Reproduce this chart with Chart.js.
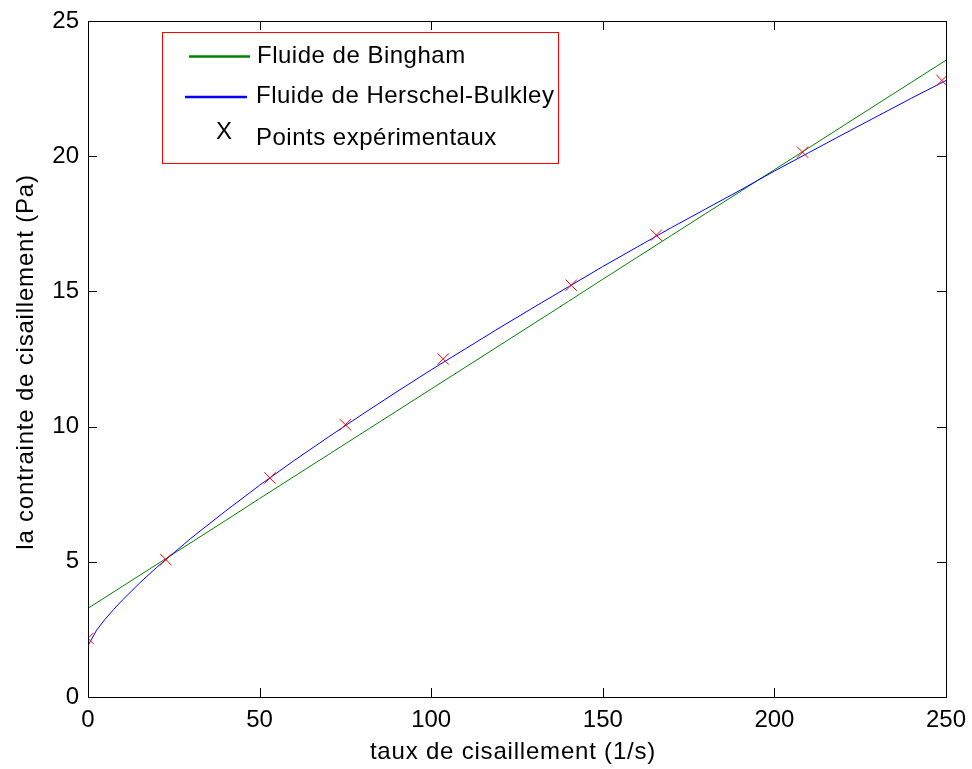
<!DOCTYPE html>
<html>
<head>
<meta charset="utf-8">
<script src="https://cdn.jsdelivr.net/npm/chart.js@4.4.1/dist/chart.umd.min.js"></script>
<style>
  html, body { margin: 0; padding: 0; background: #fff; }
  canvas { display: block; }
</style>
</head>
<body>
<canvas id="chart" width="972" height="769"></canvas>
<script>
// === Data ===
const shearRate = [0, 10, 20, 30, 40, 50, 60, 70, 80, 90, 100, 110, 120, 130, 140, 150, 160, 170, 180, 190, 200, 210, 220, 230, 240, 250];
const binghamStress = [3.28, 4.09, 4.90, 5.71, 6.52, 7.34, 8.15, 8.96, 9.77, 10.58, 11.39, 12.20, 13.01, 13.82, 14.63, 15.45, 16.26, 17.07, 17.88, 18.69, 19.50, 20.31, 21.12, 21.93, 22.74, 23.55];
const hbRate = [0, 2.5, 5, 7.5, 10, 15, 20, 30, 40, 50, 60, 70, 80, 90, 100, 110, 120, 130, 140, 150, 160, 170, 180, 190, 200, 210, 220, 230, 240, 250];
const hbStress = [1.90, 2.47, 2.88, 3.24, 3.58, 4.21, 4.79, 5.87, 6.87, 7.83, 8.74, 9.61, 10.46, 11.29, 12.10, 12.88, 13.66, 14.42, 15.17, 15.92, 16.64, 17.36, 18.05, 18.74, 19.45, 20.13, 20.81, 21.48, 22.15, 22.80];
const expRate = [0, 22.7, 53.0, 75.0, 103.5, 140.8, 165.6, 208.2, 248.8];
const expStress = [2.17, 5.08, 8.10, 10.07, 12.50, 15.23, 17.08, 20.15, 22.80];
const xTicks = [0, 50, 100, 150, 200, 250];
const yTicks = [0, 5, 10, 15, 20, 25];

const FONT = "Liberation Sans, Arial, Helvetica, sans-serif";
const pts = (xs, ys) => xs.map((x, i) => ({ x: x, y: ys[i] }));

// zone de tracé fixe (comme la figure MATLAB)
const AREA = { left: 88, right: 946, top: 21, bottom: 697 };

// === Cadre, graduations intérieures, titres des axes, légende ===
const framePlugin = {
  id: "frame",
  afterDraw(chart) {
    const ctx = chart.ctx;
    const a = chart.chartArea;
    const xs = chart.scales.x, ys = chart.scales.y;
    ctx.save();
    ctx.strokeStyle = "#000";
    ctx.lineWidth = 1;
    ctx.strokeRect(Math.round(a.left) + 0.5, Math.round(a.top) + 0.5, Math.round(a.right - a.left), Math.round(a.bottom - a.top));
    ctx.beginPath();
    const tl = 9;
    xTicks.forEach(v => {
      const px = Math.round(xs.getPixelForValue(v)) + 0.5;
      ctx.moveTo(px, a.bottom); ctx.lineTo(px, a.bottom - tl);
      ctx.moveTo(px, a.top); ctx.lineTo(px, a.top + tl);
    });
    yTicks.forEach(v => {
      const py = Math.round(ys.getPixelForValue(v)) + 0.5;
      ctx.moveTo(a.left, py); ctx.lineTo(a.left + tl, py);
      ctx.moveTo(a.right, py); ctx.lineTo(a.right - tl, py);
    });
    ctx.stroke();

    // titres des axes
    ctx.fillStyle = "#000";
    ctx.font = "24px " + FONT;
    ctx.letterSpacing = "0.8px";
    ctx.textBaseline = "alphabetic";
    ctx.textAlign = "center";
    ctx.fillText("taux de cisaillement (1/s)", (a.left + a.right) / 2 - 4, 759);
    ctx.save();
    ctx.translate(33, 362);
    ctx.rotate(-Math.PI / 2);
    ctx.fillText("la contrainte de cisaillement (Pa)", 0, 0);
    ctx.restore();

    // légende
    ctx.fillStyle = "#fff";
    ctx.fillRect(162, 32, 396, 131);
    ctx.strokeStyle = "#ff0000";
    ctx.lineWidth = 1;
    ctx.strokeRect(162.5, 32.5, 396, 131);
    ctx.lineWidth = 2.5;
    ctx.strokeStyle = "#008000";
    ctx.beginPath(); ctx.moveTo(189, 56.5); ctx.lineTo(250, 56.5); ctx.stroke();
    ctx.strokeStyle = "#0000ff";
    ctx.beginPath(); ctx.moveTo(185, 97); ctx.lineTo(247, 97); ctx.stroke();
    ctx.fillStyle = "#000";
    ctx.letterSpacing = "0.5px";
    ctx.textAlign = "left";
    ctx.fillText("Fluide de Bingham", 257, 63);
    ctx.fillText("Fluide de Herschel-Bulkley", 256, 103);
    ctx.fillText("X", 216, 139);
    ctx.fillText("Points expérimentaux", 256, 145);
    ctx.restore();
  }
};

new Chart(document.getElementById("chart"), {
  type: "scatter",
  data: {
    datasets: [
      { label: "Fluide de Bingham", data: pts(shearRate, binghamStress), showLine: true, borderColor: "#008000", borderWidth: 1, pointRadius: 0, order: 3 },
      { label: "Fluide de Herschel-Bulkley", data: pts(hbRate, hbStress), showLine: true, borderColor: "#0000ff", borderWidth: 1, pointRadius: 0, order: 2 },
      { label: "Points expérimentaux", data: pts(expRate, expStress), showLine: false, pointStyle: "crossRot", pointRadius: 8, borderColor: "#ff0000", borderWidth: 1, order: 1 }
    ]
  },
  options: {
    responsive: false,
    animation: false,
    layout: { padding: { left: 0, right: 972 - AREA.right, top: AREA.top, bottom: 0 } },
    plugins: { legend: { display: false }, tooltip: { enabled: false } },
    scales: {
      x: {
        type: "linear", min: 0, max: 250,
        afterBuildTicks: s => { s.ticks = xTicks.map(v => ({ value: v })); },
        afterFit: s => { s.height = 769 - AREA.bottom; s.paddingLeft = 0; s.paddingRight = 0; },
        grid: { display: false, drawTicks: false },
        border: { display: false },
        ticks: { color: "#000", padding: 9, maxRotation: 0, font: { family: FONT, size: 24 } }
      },
      y: {
        type: "linear", min: 0, max: 25,
        afterBuildTicks: s => { s.ticks = yTicks.map(v => ({ value: v })); },
        afterFit: s => { s.width = AREA.left; s.paddingTop = 0; s.paddingBottom = 0; },
        grid: { display: false, drawTicks: false },
        border: { display: false },
        ticks: { color: "#000", padding: 9, font: { family: FONT, size: 24 } }
      }
    }
  },
  plugins: [framePlugin]
});
</script>
</body>
</html>
